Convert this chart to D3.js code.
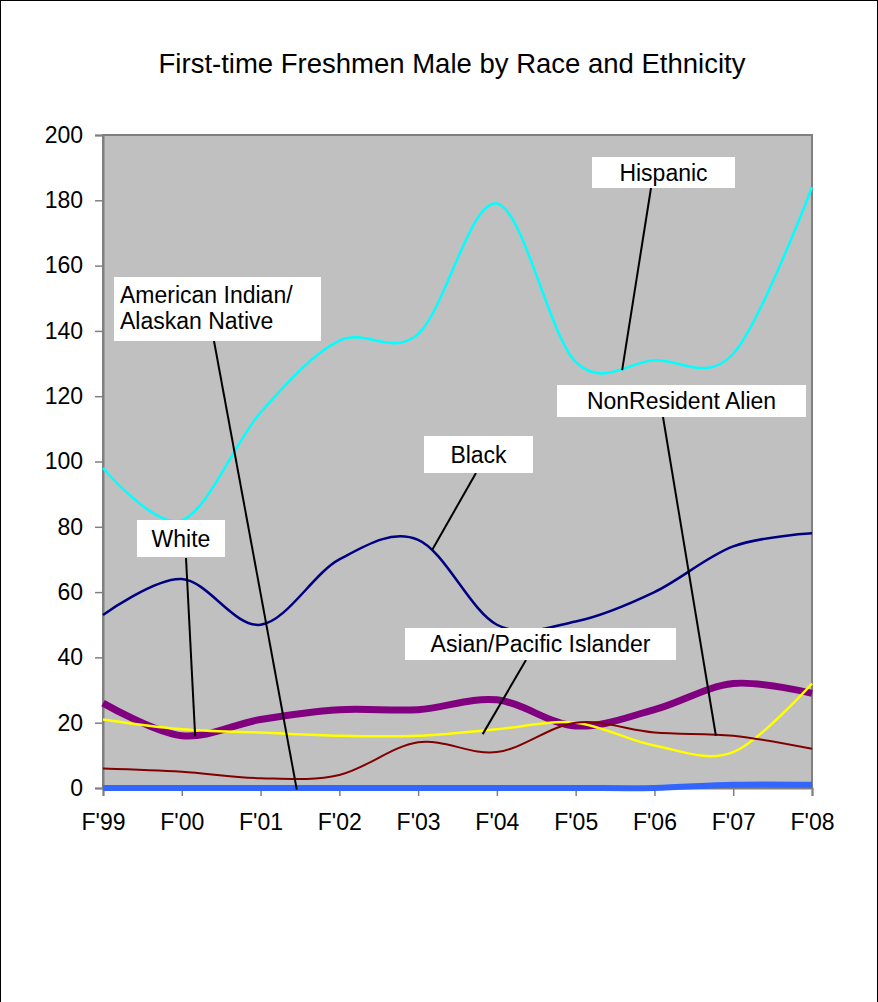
<!DOCTYPE html>
<html>
<head>
<meta charset="utf-8">
<script src="https://cdn.jsdelivr.net/npm/d3@7"></script>
<style>
  html, body { margin: 0; padding: 0; background: #fff; }
  svg { display: block; font-family: "Liberation Sans", Arial, sans-serif; }
</style>
</head>
<body>
<svg id="chart" width="878" height="1002"></svg>
<script>
// ---- data ----
const categories = ["F'99", "F'00", "F'01", "F'02", "F'03", "F'04", "F'05", "F'06", "F'07", "F'08"];
const hispanic      = [98, 82, 115, 137, 139, 179, 130.5, 131, 133, 184];
const black         = [53, 64, 50, 70, 76, 50, 51, 60, 74, 78];
const white         = [26, 16, 21, 24, 24, 27, 19, 24, 32, 29];
const asianPacific  = [21, 18, 17, 16, 16, 18, 20, 13, 11, 32];
const nonResident   = [6, 5, 3, 4, 14, 11, 20, 17, 16, 12];
const amIndian      = [0, 0, 0, 0, 0, 0, 0, 0, 1, 1];
const yTicks = [0, 20, 40, 60, 80, 100, 120, 140, 160, 180, 200];
const title = "First-time Freshmen Male by Race and Ethnicity";

const series = [
  { name: "Hispanic", values: hispanic, color: "#00FFFF", width: 2.5 },
  { name: "Black", values: black, color: "#000080", width: 2.5 },
  { name: "White", values: white, color: "#800080", width: 7 },
  { name: "Asian/Pacific Islander", values: asianPacific, color: "#FFFF00", width: 2.5 },
  { name: "NonResident Alien", values: nonResident, color: "#800000", width: 2 },
  { name: "American Indian/ Alaskan Native", values: amIndian, color: "#3366FF", width: 6 }
];

// annotation callouts: label lines, box, and the target (fractional category index, value)
const callouts = [
  { lines: ["Hispanic"], box: [592, 157, 143, 31], anchor: "middle", from: [651, 188], at: [6.59, 128] },
  { lines: ["American Indian/", "Alaskan Native"], box: [114, 277, 207, 64], anchor: "start", from: [214, 341], at: [2.46, -0.5] },
  { lines: ["NonResident Alien"], box: [557, 385, 249, 32], anchor: "middle", from: [663, 417], at: [7.78, 16] },
  { lines: ["Black"], box: [424, 436, 109, 37], anchor: "middle", from: [476, 473], at: [4.18, 73] },
  { lines: ["White"], box: [137, 520, 88, 37], anchor: "middle", from: [186, 558], at: [1.17, 15.8] },
  { lines: ["Asian/Pacific Islander"], box: [405, 628, 271, 32], anchor: "middle", from: [526, 660], at: [4.82, 16.5] }
];

// ---- layout ----
const svg = d3.select("#chart");
const plot = { left: 103, right: 812, top: 135, bottom: 788 };
const FONT = "'Liberation Sans', Arial, sans-serif";

const x = d3.scalePoint().domain(categories).range([plot.left, plot.right]);
const xi = d3.scaleLinear().domain([0, categories.length - 1]).range([plot.left, plot.right]);
const y = d3.scaleLinear().domain([0, 200]).range([plot.bottom, plot.top]);

// outer border
svg.append("rect").attr("x", 0.5).attr("y", 0.5).attr("width", 877).attr("height", 1010)
  .attr("fill", "#fff").attr("stroke", "#000").attr("stroke-width", 1);

// title
svg.append("text").attr("x", 452).attr("y", 73).attr("text-anchor", "middle")
  .attr("font-size", 27.5).attr("fill", "#000").text(title);

// plot background
svg.append("rect").attr("x", plot.left).attr("y", plot.top)
  .attr("width", plot.right - plot.left).attr("height", plot.bottom - plot.top)
  .attr("fill", "#C0C0C0").attr("stroke", "#808080").attr("stroke-width", 2);

// y axis
const yAxis = d3.axisLeft(y).tickValues(yTicks).tickSize(8).tickPadding(12);
const gy = svg.append("g").attr("transform", `translate(${plot.left},0)`).call(yAxis);
gy.select(".domain").attr("stroke", "#808080").attr("stroke-width", 2);
gy.selectAll(".tick line").attr("stroke", "#808080").attr("stroke-width", 1.5);
gy.selectAll(".tick text").attr("font-size", 23).attr("fill", "#000").attr("font-family", FONT);

// x axis
const xAxis = d3.axisBottom(x).tickSize(8).tickPadding(18);
const gx = svg.append("g").attr("transform", `translate(0,${plot.bottom})`).call(xAxis);
gx.select(".domain").attr("stroke", "#808080").attr("stroke-width", 2);
gx.selectAll(".tick line").attr("stroke", "#808080").attr("stroke-width", 1.5);
gx.selectAll(".tick text").attr("font-size", 23).attr("fill", "#000").attr("font-family", FONT);

// lines
const line = d3.line()
  .x((d, i) => x(categories[i]))
  .y(d => y(d))
  .curve(d3.curveCatmullRom.alpha(0));

svg.append("g").selectAll("path").data(series).join("path")
  .attr("d", s => line(s.values))
  .attr("fill", "none")
  .attr("stroke", s => s.color)
  .attr("stroke-width", s => s.width)
  .attr("stroke-linejoin", "round");

// callouts
const cg = svg.append("g");
callouts.forEach(c => {
  cg.append("line")
    .attr("x1", c.from[0]).attr("y1", c.from[1])
    .attr("x2", xi(c.at[0])).attr("y2", y(c.at[1]))
    .attr("stroke", "#000").attr("stroke-width", 2);
});
callouts.forEach(c => {
  const [bx, by, bw, bh] = c.box;
  cg.append("rect").attr("x", bx).attr("y", by).attr("width", bw).attr("height", bh).attr("fill", "#fff");
  const tx = c.anchor === "middle" ? bx + bw / 2 : bx + 6;
  c.lines.forEach((t, i) => {
    cg.append("text").attr("x", tx)
      .attr("y", c.lines.length === 1 ? by + bh / 2 + 8 : by + 26 + i * 26)
      .attr("text-anchor", c.anchor).attr("font-size", 23).attr("fill", "#000").text(t);
  });
});
</script>
</body>
</html>
